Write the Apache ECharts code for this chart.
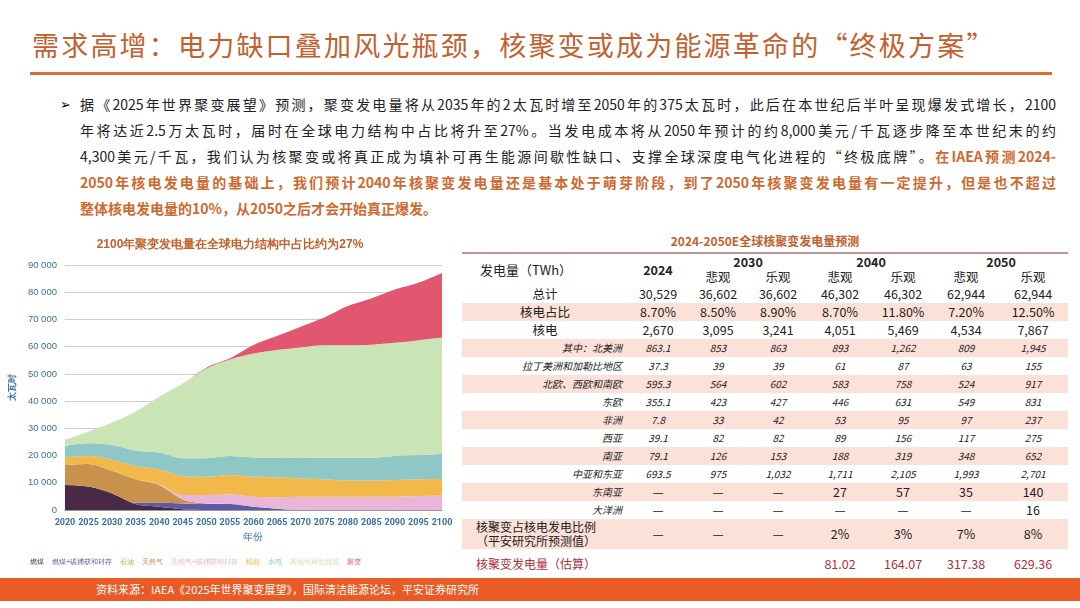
<!DOCTYPE html>
<html><head><meta charset="utf-8">
<script src="https://cdn.jsdelivr.net/npm/echarts@6/dist/echarts.min.js"></script>
<style>
body{margin:0;width:1080px;height:608px;overflow:hidden;background:#fff;font-family:"Noto Sans CJK SC","Noto Sans",sans-serif;position:relative}
#title{position:absolute;left:32px;top:25px;font-size:27px;color:#c4602e;letter-spacing:2.2px}
#rule{position:absolute;left:30px;top:72px;width:1022px;height:3px;background:#d96d32}
#para{position:absolute;left:80px;top:91px;width:976px;font-size:14px;line-height:26px;color:#222}
#para div{text-align:justify;text-align-last:justify;white-space:nowrap}
#para div.last{text-align-last:left}
#para .hl{color:#d0692f;font-weight:bold}
#bullet{position:absolute;left:60px;top:94px;font-size:13px}
#chart{position:absolute;left:0;top:230px;width:460px;height:345px}
#tt{position:absolute;left:462px;top:232px;width:606px;text-align:center;font-size:12px;font-weight:bold;color:#c4602e}
table{position:absolute;left:462px;top:252px;width:606px;border-collapse:collapse;table-layout:fixed;font-size:12.5px;color:#222;border-top:2px solid #b99;border-bottom:2px solid #b99}
td{padding:0;text-align:center;height:18px;line-height:14px;white-space:nowrap}
tr.h td{height:15.5px}
tr.s td{background:#fbe1d7}
tr.r td{font-style:italic;font-size:10px}
tr.r td:first-child{text-align:right;padding-right:6px}
td.l{text-align:left;padding-left:18px}
tr.f td{color:#b0303a}
#foot{position:absolute;left:0;top:578px;width:1080px;height:23px;background:#ea5a24;color:#fff;font-size:11px;line-height:23px}
</style></head><body>
<div id="title">需求高增：电力缺口叠加风光瓶颈，核聚变或成为能源革命的“终极方案”</div>
<div id="rule"></div>
<div id="bullet">➢</div>
<div id="para">
<div>据《2025年世界聚变展望》预测，聚变发电量将从2035年的2太瓦时增至2050年的375太瓦时，此后在本世纪后半叶呈现爆发式增长，2100</div>
<div>年将达近2.5万太瓦时，届时在全球电力结构中占比将升至27%。当发电成本将从2050年预计的约8,000美元/千瓦逐步降至本世纪末的约</div>
<div>4,300美元/千瓦，我们认为核聚变或将真正成为填补可再生能源间歇性缺口、支撑全球深度电气化进程的“终极底牌”。<span class="hl">在IAEA预测2024-</span></div>
<div class="hl">2050年核电发电量的基础上，我们预计2040年核聚变发电量还是基本处于萌芽阶段，到了2050年核聚变发电量有一定提升，但是也不超过</div>
<div class="hl last">整体核电发电量的10%，从2050之后才会开始真正爆发。</div>
</div>
<div id="chart"></div>
<div id="tt">2024-2050E全球核聚变发电量预测</div>
<table id="tbl"></table>
<div id="foot"><span style="margin-left:96px">资料来源：IAEA《2025年世界聚变展望》，国际清洁能源论坛，平安证券研究所</span></div>
<script>
const years = ['2020','2025','2030','2035','2040','2045','2050','2055','2060','2065','2070','2075','2080','2085','2090','2095','2100'];
const coal     = [9200,8600,6100,2200,1200,300,0,0,0,0,0,0,0,0,0,0,0];
const coalCcs  = [0,0,0,500,1500,2100,2200,2200,1200,500,0,0,0,0,0,0,0];
const gas      = [7300,8300,8300,8600,6500,1500,200,0,0,0,0,0,0,0,0,0,0];
const gasCcs   = [0,0,0,0,300,1600,3100,3600,3700,4200,4900,4900,4900,4900,4900,5100,5300];
const nuclear  = [2800,2900,4000,4900,5400,7000,6700,7100,7300,7300,6700,6400,5900,5900,6100,6200,6100];
const hydro    = [4200,4700,5500,5600,6200,6500,6800,6900,7100,7100,7700,7900,8400,8400,8800,8900,9200];
const otherRe  = [2200,4300,8200,14300,20500,27500,33000,35500,38200,39700,40400,41300,41300,41500,41600,42200,42800];
const fusion   = [0,0,0,0,0,0,300,400,3100,5100,7600,10200,14400,17000,19600,21100,23700];
const seriesNames = ['燃煤','燃煤+碳捕获和封存','石油','天然气','天然气+碳捕获和封存','核能','水电','其他可再生能源','聚变'];
const seriesData  = [coal,coalCcs,[],gas,gasCcs,nuclear,hydro,otherRe,fusion];
const colors = ['#4a2946','#5d5aa6','#e0a040','#c8924c','#e9b5d9','#f2b94a','#8fc6c6','#c9e4b5','#e2566f'];

const chart = echarts.init(document.getElementById('chart'));
chart.setOption({
  animation:false,
  title:{text:'2100年聚变发电量在全球电力结构中占比约为27%',left:'center',top:4,textStyle:{fontSize:12,color:'#c4602e',fontWeight:'bold'}},
  color:colors,
  grid:{left:61,right:18,top:35,bottom:65},
  legend:{bottom:4,left:20,itemWidth:0,itemHeight:0,itemGap:3,textStyle:{fontSize:7,color:'inherit'},icon:'rect',
    data:seriesNames},
  xAxis:{type:'category',data:years,boundaryGap:false,name:'年份',nameLocation:'middle',nameGap:20,
    nameTextStyle:{color:'#3a6fa8',fontSize:10},
    axisLine:{lineStyle:{color:'#999'}},axisTick:{show:false},
    axisLabel:{color:'#3a6fa8',fontSize:9,interval:0,fontWeight:'bold',fontFamily:'Liberation Sans Narrow, Roboto'}},
  yAxis:{type:'value',min:0,max:90000,interval:10000,name:'太瓦时',nameLocation:'middle',nameGap:38,nameRotate:90,
    nameTextStyle:{color:'#3a6fa8',fontSize:9,fontWeight:'bold'},
    axisLabel:{color:'#3a6fa8',fontSize:9.5,formatter:v=>v===0?'0':(v/1000)+' 000'},
    splitLine:{lineStyle:{color:'#ccc'}}},
  series:seriesNames.map((n,i)=>({name:n,type:'line',stack:'t',data:seriesData[i],symbol:'none',smooth:0.3,
    lineStyle:{width:0},areaStyle:{opacity:1,color:colors[i]}}))
});

const tableRows = [
  ['总计','30,529','36,602','36,602','46,302','46,302','62,944','62,944'],
  ['核电占比','8.70%','8.50%','8.90%','8.70%','11.80%','7.20%','12.50%'],
  ['核电','2,670','3,095','3,241','4,051','5,469','4,534','7,867'],
  ['其中：北美洲','863.1','853','863','893','1,262','809','1,945'],
  ['拉丁美洲和加勒比地区','37.3','39','39','61','87','63','155'],
  ['北欧、西欧和南欧','595.3','564','602','583','758','524','917'],
  ['东欧','355.1','423','427','446','631','549','831'],
  ['非洲','7.8','33','42','53','95','97','237'],
  ['西亚','39.1','82','82','89','156','117','275'],
  ['南亚','79.1','126','153','188','319','348','652'],
  ['中亚和东亚','693.5','975','1,032','1,711','2,105','1,993','2,701'],
  ['东南亚','—','—','—','27','57','35','140'],
  ['大洋洲','—','—','—','—','—','—','16'],
  ['核聚变占核电发电比例<br>（平安研究所预测值）','—','—','—','2%','3%','7%','8%'],
  ['核聚变发电量（估算）','','','','81.02','164.07','317.38','629.36']
];
let h = '<colgroup><col style="width:166px"><col style="width:60px"><col style="width:60px"><col style="width:60px"><col style="width:64px"><col style="width:62px"><col style="width:64px"><col style="width:70px"></colgroup>';
h += '<tr class="h"><td rowspan="2" class="l" style="font-size:13px">发电量（TWh）</td><td rowspan="2" style="font-weight:bold">2024</td><td colspan="2" style="font-weight:bold">2030</td><td colspan="2" style="font-weight:bold">2040</td><td colspan="2" style="font-weight:bold">2050</td></tr>';
h += '<tr class="h"><td>悲观</td><td>乐观</td><td>悲观</td><td>乐观</td><td>悲观</td><td>乐观</td></tr>';
tableRows.forEach((r,i)=>{
  let cls = (i%2===1?'s ':'') + (i>=3&&i<=12?'r':'') + (i===14?' f':'');
  h += '<tr class="'+cls+'">';
  r.forEach((c,j)=>{
    let st='';
    if(j===0 && (i<3)) st=' style="text-align:center"';
    if(j===0 && i>=13) st=' style="text-align:left;padding-left:14px;font-size:12px;font-style:normal;line-height:14px;height:30px"';
    if(j>0 && (i===11||i===12)) st=' style="font-style:normal;font-size:12.5px"';
    h += '<td'+st+'>'+c+'</td>';
  });
  h += '</tr>';
});
document.getElementById('tbl').innerHTML = h;
</script>
</body></html>
